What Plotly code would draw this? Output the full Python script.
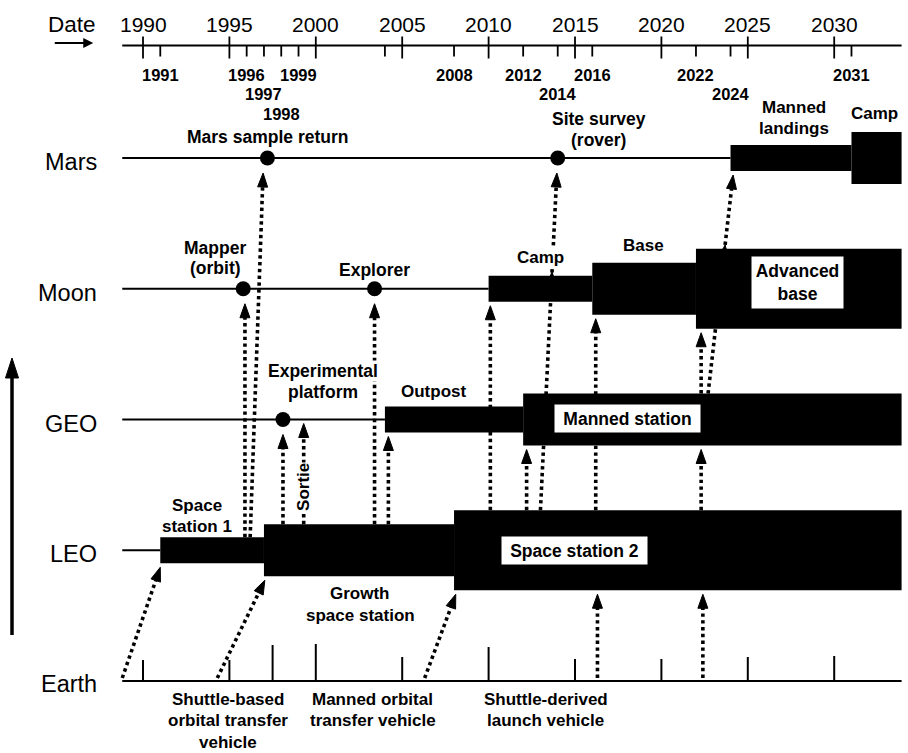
import plotly.graph_objects as go

# ---------------- data ----------------
rows = ["Earth", "LEO", "GEO", "Moon", "Mars"]
timeline_start = 1988.8
timeline_end = 2033.9

date_major_years = [1990, 1995, 2000, 2005, 2010, 2015, 2020, 2025, 2030]
date_minor_years = [1991, 1996, 1997, 1998, 1999, 2004, 2008, 2012, 2014, 2016, 2022, 2024, 2031]
date_minor_labels = ["1991", "1996", "1997", "1998", "1999", "", "2008", "2012", "2014", "2016", "2022", "2024", "2031"]

bar_rows = ["LEO", "LEO", "LEO", "GEO", "GEO", "Moon", "Moon", "Moon", "Mars", "Mars"]
bar_start = [1991, 1997, 2008, 2004, 2012, 2010, 2016, 2022, 2024, 2031]
bar_end = [1997, 2008, 2033.9, 2012, 2033.9, 2016, 2022, 2033.9, 2031, 2033.9]
bar_scale = [1, 2, 3, 1, 2, 1, 2, 3, 1, 2]
bar_labels = ["Space<br>station 1", "Growth<br>space station", "Space station 2", "Outpost",
              "Manned station", "Camp", "Base", "Advanced<br>base", "Manned<br>landings", "Camp"]

ms_rows = ["Mars", "Mars", "Moon", "Moon", "GEO"]
ms_years = [1997.2, 2014.0, 1995.8, 2003.4, 1998.1]
ms_labels = ["Mars sample return", "Site survey<br>(rover)", "Mapper<br>(orbit)", "Explorer",
             "Experimental<br>platform"]

arrow_from_rows = ["Earth", "Earth", "Earth", "Earth", "Earth", "LEO", "LEO", "LEO", "LEO",
                   "LEO", "LEO", "LEO", "LEO", "LEO", "LEO", "LEO", "GEO", "GEO"]
arrow_from_years = [1988.8, 1994.3, 2006.3, 2016.3, 2022.4, 1995.9, 1996.2, 1998.1, 1999.3,
                    2003.4, 2004.2, 2010.1, 2012.2, 2013.0, 2016.2, 2022.3, 2022.3, 2022.7]
arrow_to_rows = ["LEO", "LEO", "LEO", "LEO", "LEO", "Moon", "Mars", "GEO", "GEO",
                 "Moon", "GEO", "Moon", "GEO", "Mars", "Moon", "GEO", "Moon", "Mars"]
arrow_to_years = [1991.0, 1997.05, 2008.1, 2016.3, 2022.4, 1995.9, 1996.95, 1998.1, 1999.3,
                  2003.4, 2004.2, 2010.1, 2012.2, 2013.95, 2016.2, 2022.3, 2022.3, 2024.15]
arrow_via = [None] * 13 + ["Moon", None, None, None, "Moon"]

earth_tick_years = [1990, 1995, 1997.5, 2000, 2005, 2010, 2015, 2020, 2025, 2030]
earth_tick_heights = [21, 21, 36, 37, 24, 34, 22, 22, 24, 25]

vehicle_labels = ["Shuttle-based<br>orbital transfer<br>vehicle", "Manned orbital<br>transfer vehicle",
                  "Shuttle-derived<br>launch vehicle"]
vehicle_years = [1994.9, 2003.3, 2013.3]

# ---------------- layout helpers ----------------
W, H = 908, 753
PX_X = 17.28          # pixels per year
PX_Y = 130.75         # pixels per row
X0_PX, Y0_PX = 143, 681
HALF = {1: 13, 2: 26, 3: 40}
FONT = "Liberation Sans, Arial, Helvetica, sans-serif"
level = {r: i for i, r in enumerate(rows)}
DATE_LEVEL = (Y0_PX - 45.5) / PX_Y

fig = go.Figure()

# row base lines
lx, ly = [], []
for r in rows:
    starts = [s for br, s in zip(bar_rows, bar_start) if br == r]
    end = min(starts) if starts else timeline_end
    lx += [timeline_start, end, None]
    ly += [level[r], level[r], None]
fig.add_trace(go.Scatter(x=lx, y=ly, mode="lines", line=dict(color="black", width=2),
                         hoverinfo="skip"))

# earth ticks
tx, ty = [], []
for yv, h in zip(earth_tick_years, earth_tick_heights):
    tx += [yv, yv, None]
    ty += [level["Earth"], level["Earth"] + h / PX_Y, None]
fig.add_trace(go.Scatter(x=tx, y=ty, mode="lines", line=dict(color="black", width=2),
                         hoverinfo="skip"))

# date axis
dx_, dy_ = [timeline_start, timeline_end, None], [DATE_LEVEL, DATE_LEVEL, None]
for yv in date_major_years:
    dx_ += [yv, yv, None]
    dy_ += [DATE_LEVEL + 9 / PX_Y, DATE_LEVEL - 13 / PX_Y, None]
for yv in date_minor_years:
    dx_ += [yv, yv, None]
    dy_ += [DATE_LEVEL, DATE_LEVEL - 11 / PX_Y, None]
fig.add_trace(go.Scatter(x=dx_, y=dy_, mode="lines", line=dict(color="black", width=1.8),
                         hoverinfo="skip"))

# bars
fig.add_trace(go.Bar(orientation="h", y=[level[r] for r in bar_rows],
                     x=[e - s for s, e in zip(bar_start, bar_end)], base=bar_start,
                     width=[2 * HALF[s] / PX_Y for s in bar_scale],
                     marker=dict(color="black", line=dict(width=0)), hoverinfo="skip"))


def hh_at(row, year):
    for r, s, e, sc in zip(bar_rows, bar_start, bar_end, bar_scale):
        if r == row and s <= year <= e:
            return HALF[sc]
    return None


def dot_at(row, year):
    return any(r == row and abs(y - year) < 0.6 for r, y in zip(ms_rows, ms_years))


# dotted arrows
ax_, ay_ = [], []
hx, hy = [], []


def head(tx_, ty_, ux, uy, L=14, Wd=5):
    bx, by = -ux * L, -uy * L
    px_, py_ = -uy * Wd, ux * Wd
    pts = [(0, 0), (bx + px_, by + py_), (bx - px_, by - py_), (0, 0)]
    for p, q in pts:
        hx.append(tx_ + p / PX_X)
        hy.append(ty_ + q / PX_Y)
    hx.append(None)
    hy.append(None)


for fr, fy, tr, ty2, via in zip(arrow_from_rows, arrow_from_years, arrow_to_rows,
                                 arrow_to_years, arrow_via):
    h0 = hh_at(fr, fy)
    off0 = h0 if h0 else (3 if fr == "Earth" else 0)
    if dot_at(tr, ty2):
        off1 = -15
    else:
        h1 = hh_at(tr, ty2)
        off1 = -(h1 + 4) if h1 else -4
    x0, y0 = fy, level[fr] + off0 / PX_Y
    x1, y1 = ty2, level[tr] + off1 / PX_Y
    dxp, dyp = (x1 - x0) * PX_X, (y1 - y0) * PX_Y
    n = (dxp ** 2 + dyp ** 2) ** 0.5
    ux, uy = dxp / n, dyp / n
    ax_ += [x0, x1 - ux * 8 / PX_X, None]
    ay_ += [y0, y1 - uy * 8 / PX_Y, None]
    head(x1, y1, ux, uy)
    if via:
        t = (level[via] - y0) / (y1 - y0)
        xv = x0 + t * (x1 - x0)
        hv = hh_at(via, xv) or 0
        yt = level[via] + (hv + 4) / PX_Y
        t2 = (yt - y0) / (y1 - y0)
        head(x0 + t2 * (x1 - x0), yt, ux, uy)

fig.add_trace(go.Scatter(x=ax_, y=ay_, mode="lines",
                         line=dict(color="black", width=3.6, dash="3.4px,3.4px"),
                         hoverinfo="skip"))
fig.add_trace(go.Scatter(x=hx, y=hy, mode="lines", fill="toself", fillcolor="black",
                         line=dict(color="black", width=1), hoverinfo="skip"))

# milestones
fig.add_trace(go.Scatter(x=ms_years, y=[level[r] for r in ms_rows], mode="markers",
                         marker=dict(color="black", size=15, line=dict(width=0)),
                         hoverinfo="skip"))


def label(text, x, y, dx=0, dy=0, size=17, bold=True, spacing=21, bg=None, xanchor="center"):
    for k, ln in enumerate(text.split("<br>")):
        fig.add_annotation(x=x, y=y, xref="x", yref="y", showarrow=False,
                           text=f"<b>{ln}</b>" if bold else ln,
                           xshift=dx, yshift=-(dy + k * spacing), xanchor=xanchor,
                           yanchor="middle", bgcolor=bg, borderpad=0,
                           font=dict(family=FONT, size=size, color="black"))


def box(text, x, y, dx, dy, w, h):
    fig.add_annotation(x=x, y=y, xref="x", yref="y", showarrow=False,
                       text="<br>".join(f"<b>{t}</b>" for t in text.split("<br>")),
                       xshift=dx, yshift=-dy, width=w, height=h, bgcolor="white",
                       borderpad=0, align="center", valign="middle",
                       font=dict(family=FONT, size=17.5, color="black"))


# bar labels: (dx, dy) pixel offsets from bar centre
bar_label_place = [(-15, -45, None), (1, 43, None), None, (-21, -28.5, None), None,
                   (0, -31, "white"), (-1, -43, None), None, (3, -51, None), (-2, -45, None)]
bar_box_place = {2: (-103, 0, 145, 27), 4: (-85, -1, 145, 27), 7: (-1, -6, 91, 51)}
for i, (r, s, e, txt) in enumerate(zip(bar_rows, bar_start, bar_end, bar_labels)):
    cx = (s + e) / 2
    if i in bar_box_place:
        dx, dy, w, h = bar_box_place[i]
        box(txt, cx, level[r], dx, dy, w, h)
    else:
        dx, dy, bg = bar_label_place[i]
        label(txt, cx, level[r], dx, dy, bg=bg, spacing=21 if i != 1 else 22)

# milestone labels
ms_label_place = [(0, -21, 18, None), (41, -39, 20.5, None), (-28, -41, 20.5, None),
                  (0, -19, 20, None), (40, -49, 21, "white")]
for r, yv, txt, (dx, dy, sp, bg) in zip(ms_rows, ms_years, ms_labels, ms_label_place):
    label(txt, yv, level[r], dx, dy, spacing=sp, bg=bg, size=17.5)

# sortie label (vertical)
fig.add_annotation(x=1999.3, y=level["LEO"] + 63 / PX_Y, xref="x", yref="y", showarrow=False,
                   text="<b>Sortie</b>", textangle=-90, bgcolor="white", borderpad=0,
                   font=dict(family=FONT, size=17, color="black"))

# vehicle labels
for txt, yv in zip(vehicle_labels, vehicle_years):
    label(txt, yv, level["Earth"], 0, 18, spacing=21.5)

# row labels
for r in rows:
    fig.add_annotation(x=timeline_start, y=level[r], xref="x", yref="y", showarrow=False,
                       text=r, xanchor="right", xshift=-23, yshift=-4 if r != "Earth" else -3,
                       font=dict(family=FONT, size=23.5, color="black"))

# date labels
for yv in date_major_years:
    label(str(yv), yv, DATE_LEVEL, 0, -21, size=21, bold=False)
tier = {1997: 1, 1998: 2, 2014: 1, 2024: 1}
tier_dy = [29.5, 48.5, 68.5]
for yv, txt in zip(date_minor_years, date_minor_labels):
    if txt:
        label(txt, yv, DATE_LEVEL, 0, tier_dy[tier.get(yv, 0)], size=16.5)
label("Date", timeline_start, DATE_LEVEL, -50, -21, size=22.5, bold=False)

# "Date" arrow and vertical axis arrow
fig.add_annotation(x=timeline_start, y=DATE_LEVEL, xref="x", yref="y", xshift=-29, yshift=2.5,
                   showarrow=True, ax=-40, ay=0, arrowhead=2, arrowsize=1, arrowwidth=2,
                   arrowcolor="black", text="")
fig.add_shape(type="line", xref="paper", yref="paper", x0=12 / W, x1=12 / W,
              y0=1 - 635 / H, y1=1 - 372 / H, line=dict(color="black", width=3.5))
fig.add_shape(type="path", xref="paper", yref="paper",
              path=f"M {5.5 / W} {1 - 378 / H} L {12 / W} {1 - 358 / H} L {18.5 / W} {1 - 378 / H} Z",
              fillcolor="black", line=dict(color="black", width=1))

fig.update_layout(
    width=W, height=H, margin=dict(l=0, r=0, t=0, b=0),
    paper_bgcolor="white", plot_bgcolor="white", showlegend=False, barmode="overlay",
    xaxis=dict(range=[1990 - X0_PX / PX_X, 1990 + (W - X0_PX) / PX_X], visible=False,
               fixedrange=True),
    yaxis=dict(range=[-(H - Y0_PX) / PX_Y, Y0_PX / PX_Y], visible=False, fixedrange=True),
)

fig.write_html("out.html", config={"displayModeBar": False},
               post_script="document.body.style.margin='0';document.body.style.overflow='hidden';")
